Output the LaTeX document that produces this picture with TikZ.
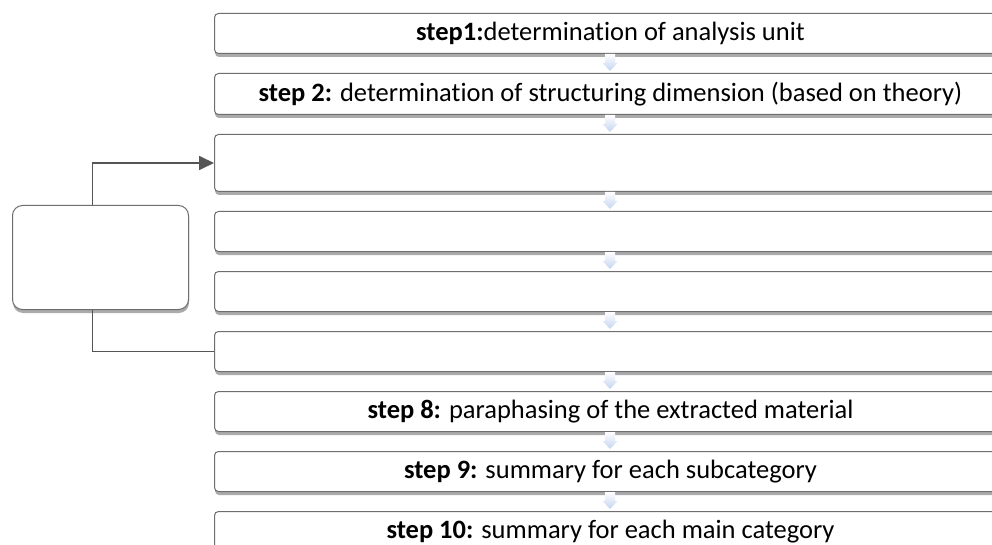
\documentclass[tikz,border=0pt]{standalone}
\usepackage{fontspec}
\setmainfont{Carlito}[Ligatures=NoCommon]
\usetikzlibrary{shadows,arrows.meta,calc}
\definecolor{boxline}{RGB}{110,110,110}
\definecolor{connline}{RGB}{85,85,85}
\definecolor{arrowblue}{RGB}{196,212,240}
\begin{document}
\begin{tikzpicture}[x=1pt,y=-1pt,
  stepbox/.style={draw=boxline, line width=1pt, fill=white, rounded corners=4pt,
    minimum width=792pt, minimum height=40pt, anchor=north west, inner sep=0pt,
    font=\fontsize{26.5}{30}\selectfont,
    drop shadow={shadow xshift=0.5pt,shadow yshift=-3.5pt,fill=black!55,opacity=0.6}},
  loopbox/.style={draw=boxline, line width=1pt, fill=white, rounded corners=10pt,
    minimum width=176pt, minimum height=104pt, anchor=north west, inner sep=0pt,
    drop shadow={shadow xshift=0.5pt,shadow yshift=-3.5pt,fill=black!55,opacity=0.6}},
  conn/.style={draw=connline, line width=1.8pt},
  downarrow/.style={top color=white, bottom color=arrowblue, draw=none}
]
\clip (0,0) rectangle (992,545);
\fill[white] (0,0) rectangle (992,545);

\node[stepbox] (s1) at (214,13) {\textbf{step1:}determination of analysis unit};
\node[stepbox, minimum height=41pt] (s2) at (214,73) {\textbf{step 2:} determination of structuring dimension (based on theory)};
\node[stepbox, minimum height=57pt] (s3) at (214,134) {};
\node[stepbox] (s4) at (214,211) {};
\node[stepbox] (s5) at (214,271) {};
\node[stepbox] (s6) at (214,331) {};
\node[stepbox] (s8) at (214,391) {\textbf{step 8:} paraphasing of the extracted material};
\node[stepbox] (s9) at (214,451) {\textbf{step 9:} summary for each subcategory};
\node[stepbox] (s10) at (214,511) {\textbf{step 10:} summary for each main category};

\node[loopbox] (loop) at (12,205) {};

\foreach \a in {s1,s2,s3,s4,s5,s6,s8,s9}{
  \path ($(\a.south west)+(396,0)$) coordinate (t);
  \shade[downarrow] ($(t)+(-5,0)$) -- ($(t)+(5,0)$) -- ($(t)+(5,9)$) -- ($(t)+(7.5,9)$)
     -- ($(t)+(0,17)$) -- ($(t)+(-7.5,9)$) -- ($(t)+(-5,9)$) -- cycle;
}

\draw[conn, -{Triangle[length=15pt,width=14pt]}] ([xshift=-8pt]loop.north) |- (s3.west);
\draw[conn] (s6.west) -| ([xshift=-8pt]loop.south);
\end{tikzpicture}
\end{document}
